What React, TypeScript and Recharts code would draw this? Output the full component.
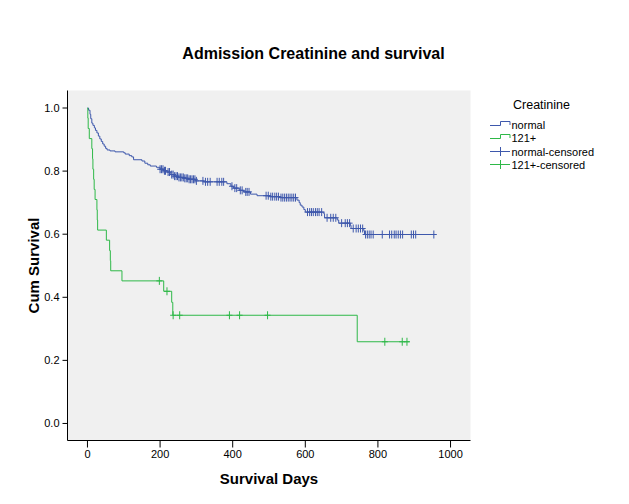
import React from 'react';
import { ComposedChart, Line, Scatter, XAxis, YAxis, CartesianGrid, Legend, Label } from 'recharts';

// Kaplan-Meier step points: normal creatinine
const normalDays = [0, 3, 7, 9, 12, 15, 19, 22, 26, 30, 34, 38, 42, 46, 50, 54, 62, 76, 100, 104, 115, 122, 127, 150, 158, 166, 173, 190, 200, 210, 219, 228, 240, 250, 265, 280, 297, 320, 384, 395, 402, 418, 430, 449, 467, 505, 530, 577, 583, 586, 591, 596, 600, 651, 653, 688, 692, 724, 726, 761, 763, 954];
const normalSurv = [1.0, 0.993, 0.98, 0.966, 0.952, 0.945, 0.937, 0.929, 0.921, 0.911, 0.902, 0.894, 0.886, 0.879, 0.872, 0.867, 0.864, 0.861, 0.858, 0.854, 0.849, 0.845, 0.836, 0.832, 0.825, 0.82, 0.816, 0.812, 0.806, 0.801, 0.797, 0.789, 0.784, 0.78, 0.777, 0.774, 0.769, 0.766, 0.76, 0.752, 0.746, 0.739, 0.734, 0.727, 0.722, 0.719, 0.716, 0.708, 0.7, 0.692, 0.686, 0.678, 0.67, 0.665, 0.652, 0.645, 0.635, 0.628, 0.618, 0.611, 0.599, 0.599];

// Kaplan-Meier step points: creatinine 121+
const highDays = [0, 1, 2, 5, 12, 14, 15, 17, 18.5, 21, 26, 27, 28, 52, 61, 63, 64, 95, 210, 232, 235, 743, 887];
const highSurv = [1.0, 0.968, 0.935, 0.903, 0.871, 0.839, 0.806, 0.774, 0.742, 0.71, 0.677, 0.645, 0.613, 0.581, 0.548, 0.516, 0.484, 0.452, 0.419, 0.384, 0.343, 0.259, 0.259];

// Censored observation days
const normalCensorDays = [200, 204, 208, 212, 215, 222, 226, 232, 236, 240, 244, 248, 252, 256, 260, 264, 268, 272, 276, 280, 284, 288, 292, 296, 300, 318, 325, 331, 338, 357, 363, 370, 375, 398, 406, 411, 421, 426, 436, 440, 445, 492, 498, 505, 510, 516, 521, 526, 533, 538, 543, 548, 553, 558, 563, 568, 573, 606, 612, 617, 622, 628, 633, 638, 645, 660, 670, 677, 684, 700, 710, 716, 722, 732, 740, 746, 752, 758, 766, 771, 776, 781, 787, 812, 832, 838, 845, 850, 856, 862, 868, 892, 898, 904, 954];
const highCensorDays = [198, 219, 236, 254, 391, 419, 496, 819, 867, 880];

const xTicks = [0, 200, 400, 600, 800, 1000];
const yTicks = [0, 0.2, 0.4, 0.6, 0.8, 1.0];

const BLUE = '#3E58AC';
const GREEN = '#2EB848';
const FONT = '"Liberation Sans", Arial, sans-serif';

const stepAt = (days: number[], surv: number[], d: number) => {
  let v = surv[0];
  for (let i = 0; i < days.length; i++) {
    if (days[i] <= d) v = surv[i];
  }
  return v;
};

const normalData = normalDays.map((d, i) => ({ day: d, surv: normalSurv[i] }));
const highData = highDays.map((d, i) => ({ day: d, surv: highSurv[i] }));
const normalCensor = normalCensorDays.map((d) => ({ day: d, surv: stepAt(normalDays, normalSurv, d) }));
const highCensor = highCensorDays.map((d) => ({ day: d, surv: stepAt(highDays, highSurv, d) }));

const X_DOMAIN = [-55, 1055];
const Y_DOMAIN = [-0.054, 1.0555];

const censorShape = (color: string) => (props: any) => {
  const { cx, cy } = props;
  if (cx == null || cy == null) return <g />;
  return (
    <path
      d={`M${cx - 3},${cy}H${cx + 3}M${cx},${cy - 4}V${cy + 4}`}
      stroke={color}
      strokeWidth={1}
      fill="none"
    />
  );
};

const LegendContent = () => (
  <svg width={143} height={80} style={{ display: 'block', fontFamily: FONT }}>
    <text x={27} y={11} fontSize={12.5} fill="#000" dominantBaseline="central">Creatinine</text>
    <path d="M4,31.5H14.5V27.5H24V31" stroke={BLUE} fill="none" strokeWidth={1} />
    <text x={25.5} y={31} fontSize={11} fill="#000" dominantBaseline="central">normal</text>
    <path d="M4,44.5H14.5V40.5H24V44" stroke={GREEN} fill="none" strokeWidth={1} />
    <text x={25.5} y={44.3} fontSize={11} fill="#000" dominantBaseline="central">121+</text>
    <path d="M4,57.5H24M14.5,53V62" stroke={BLUE} fill="none" strokeWidth={1} />
    <text x={25.5} y={57.7} fontSize={11} fill="#000" dominantBaseline="central">normal-censored</text>
    <path d="M4,70.5H24M14.5,66V75" stroke={GREEN} fill="none" strokeWidth={1} />
    <text x={25.5} y={71} fontSize={11} fill="#000" dominantBaseline="central">121+-censored</text>
  </svg>
);

export default function App() {
  return (
    <div style={{ position: 'absolute', left: 0, top: 0, width: 629, height: 504, background: '#fff', fontFamily: FONT }}>
      <div
        style={{
          position: 'absolute',
          left: 0,
          width: 629,
          top: 45,
          textAlign: 'center',
          fontSize: 16,
          fontWeight: 'bold',
          color: '#000',
          paddingLeft: 0,
        }}
      >
        <span style={{ position: 'relative', left: -1 }}>Admission Creatinine and survival</span>
      </div>
      <ComposedChart
        width={629}
        height={504}
        margin={{ top: 90.5, right: 158.5, bottom: 0, left: 0.5 }}
        style={{ position: 'absolute', left: 0, top: 0 }}
      >
        <CartesianGrid fill="#F0F0F0" horizontal={false} vertical={false} />
        <XAxis
          dataKey="day"
          type="number"
          domain={X_DOMAIN}
          allowDataOverflow
          ticks={xTicks}
          tickSize={7}
          tickMargin={3}
          height={63.5}
          axisLine={{ stroke: '#000' }}
          tickLine={{ stroke: '#000' }}
          tick={{ fill: '#000', fontSize: 11, fontFamily: FONT }}
        >
          <Label
            content={(props: any) => {
              const vb = props.viewBox || {};
              return (
                <text
                  x={vb.x + vb.width / 2}
                  y={vb.y + 37.5}
                  textAnchor="middle"
                  dominantBaseline="central"
                  fontSize={15}
                  fontWeight="bold"
                  fontFamily={FONT}
                  fill="#000"
                >
                  Survival Days
                </text>
              );
            }}
          />
        </XAxis>
        <XAxis
          xAxisId="top"
          orientation="top"
          type="number"
          domain={X_DOMAIN}
          allowDataOverflow
          height={0}
          tick={false}
          tickLine={false}
          axisLine={{ stroke: '#000' }}
        />
        <YAxis
          dataKey="surv"
          type="number"
          domain={Y_DOMAIN}
          allowDataOverflow
          ticks={yTicks}
          tickFormatter={(v: number) => v.toFixed(1)}
          tickSize={5}
          tickMargin={3}
          width={67}
          axisLine={{ stroke: '#000' }}
          tickLine={{ stroke: '#000' }}
          tick={{ fill: '#000', fontSize: 11, fontFamily: FONT }}
        >
          <Label
            content={(props: any) => {
              const vb = props.viewBox || {};
              const cx = 33;
              const cy = vb.y + vb.height / 2;
              return (
                <text
                  x={cx}
                  y={cy}
                  transform={`rotate(-90, ${cx}, ${cy})`}
                  textAnchor="middle"
                  dominantBaseline="central"
                  fontSize={15}
                  fontWeight="bold"
                  fontFamily={FONT}
                  fill="#000"
                >
                  Cum Survival
                </text>
              );
            }}
          />
        </YAxis>
        <YAxis
          yAxisId="right"
          orientation="right"
          type="number"
          domain={Y_DOMAIN}
          allowDataOverflow
          width={0}
          tick={false}
          tickLine={false}
          axisLine={{ stroke: '#000' }}
        />
        <Legend
          layout="vertical"
          align="center"
          verticalAlign="middle"
          wrapperStyle={{ left: 486, top: 94, width: 143, height: 80 }}
          content={() => <LegendContent />}
        />
        <Line
          data={normalData}
          dataKey="surv"
          type="stepAfter"
          stroke={BLUE}
          strokeWidth={1}
          dot={false}
          activeDot={false}
          isAnimationActive={false}
          name="normal"
        />
        <Line
          data={highData}
          dataKey="surv"
          type="stepAfter"
          stroke={GREEN}
          strokeWidth={1}
          dot={false}
          activeDot={false}
          isAnimationActive={false}
          name="121+"
        />
        <Scatter
          data={normalCensor}
          dataKey="surv"
          shape={censorShape(BLUE)}
          isAnimationActive={false}
          name="normal-censored"
        />
        <Scatter
          data={highCensor}
          dataKey="surv"
          shape={censorShape(GREEN)}
          isAnimationActive={false}
          name="121+-censored"
        />
      </ComposedChart>
    </div>
  );
}
